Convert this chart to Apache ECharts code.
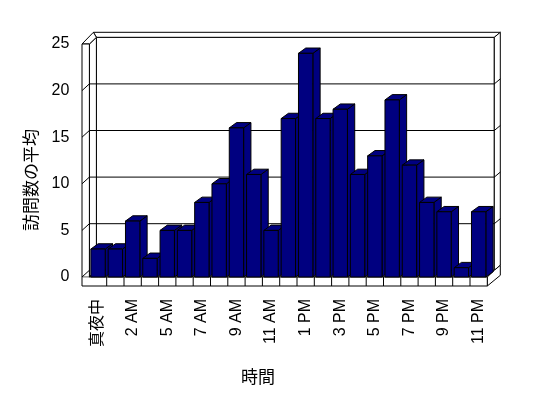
<!DOCTYPE html>
<html>
<head>
<meta charset="utf-8">
<script src="https://cdn.jsdelivr.net/npm/echarts@6/dist/echarts.min.js"></script>
<style>
html,body{margin:0;padding:0;background:#fff;}
#chart{width:548px;height:398px;}
</style>
</head>
<body>
<div id="chart"></div>
<script>
// Categories (hours) and values
var categories = ['真夜中','1 AM','2 AM','3 AM','5 AM','6 AM','7 AM','8 AM','9 AM','10 AM','11 AM','正午',
                  '1 PM','2 PM','3 PM','4 PM','5 PM','6 PM','7 PM','8 PM','9 PM','10 PM','11 PM'];
var visits = [3,3,6,2,5,5,8,10,16,11,5,17,24,17,18,11,13,19,12,8,7,1,7];
var yTicks = [0,5,10,15,20,25];
var yTitle = '訪問数の平均';
var xTitle = '時間';

var BAR = '#000080';
var DX = 7, DY = -6.7;        // wall depth offset
var BDX = 7.3, BDY = -5.3;    // bar depth offset

var chart = echarts.init(document.getElementById('chart'), null, {renderer:'canvas'});

function frameRender(params, api) {
  var cs = params.coordSys;
  var L = cs.x, R = cs.x + cs.width;
  var B = api.coord([0, 0])[1];
  var T = api.coord([0, 25])[1];
  var band = api.size([1, 0])[0];
  var LW = 7.4, FL = 9, BT = 5, BR = 6;
  var st = {fill:'#fff', stroke:'#000', lineWidth:1};
  var ln = {stroke:'#000', lineWidth:1, fill:null};
  var ch = [];
  ch.push({type:'polygon', shape:{points:[[L+DX,T+DY],[R+DX,T+DY],[R+DX,B+DY],[L+DX,B+DY]]}, style:st});
  ch.push({type:'polygon', shape:{points:[[L,T],[L+DX,T+DY],[L+DX,B+DY],[L,B]]}, style:st});
  ch.push({type:'polygon', shape:{points:[[L,B],[R,B],[R+DX,B+DY],[L+DX,B+DY]]}, style:st});
  ch.push({type:'polygon', shape:{points:[[L+DX,T+DY],[R+DX,T+DY],[R+DX+BR,T+DY-BT],[L+DX-3,T+DY-BT]]}, style:st});
  ch.push({type:'polygon', shape:{points:[[L-LW,T],[L,T],[L+DX,T+DY],[L+DX-3,T+DY-BT]]}, style:st});
  ch.push({type:'polygon', shape:{points:[[R+DX,T+DY],[R+DX+BR,T+DY-BT],[R+DX+BR,B+DY-BT],[R+DX,B+DY]]}, style:st});
  ch.push({type:'polygon', shape:{points:[[R,B],[R+DX,B+DY],[R+DX+BR,B+DY-BT],[R+DX+BR,B+FL+DY-BT+1],[R,B+FL]]}, style:st});
  ch.push({type:'rect', shape:{x:L-LW, y:T, width:LW, height:B-T}, style:st});
  ch.push({type:'rect', shape:{x:L-LW, y:B, width:R-L+LW, height:FL}, style:st});
  ch.push({type:'line', shape:{x1:L-LW+0.5, y1:B, x2:L-0.5, y2:B}, style:{stroke:'#fff', lineWidth:1}});
  for (var k = 1; k < categories.length; k++) {
    var x = L + k * band;
    ch.push({type:'line', shape:{x1:x, y1:B, x2:x, y2:B+FL}, style:ln});
  }
  yTicks.forEach(function (v) {
    var y = api.coord([0, v])[1];
    if (v < 25) {
      ch.push({type:'line', shape:{x1:L-LW, y1:y, x2:L, y2:y+DY}, style:ln});
      if (v > 0) {
        ch.push({type:'line', shape:{x1:L, y1:y+DY, x2:R+DX, y2:y+DY}, style:ln});
        ch.push({type:'line', shape:{x1:R+DX, y1:y+DY, x2:R+DX+BR, y2:y+DY-BT}, style:ln});
      }
    }
  });
  return {type:'group', children:ch};
}

function barRender(params, api) {
  var i = api.value(0), v = api.value(1);
  var top = api.coord([i, v]);
  var base = api.coord([i, 0]);
  var band = api.size([1, 0])[0];
  var w = band * 0.83;
  var x0 = top[0] - w / 2, x1 = x0 + w;
  var yt = top[1], yb = base[1];
  var st = {fill:BAR, stroke:'#000', lineWidth:1};
  return {type:'group', children:[
    {type:'polygon', shape:{points:[[x1,yt],[x1+BDX,yt+BDY],[x1+BDX,yb+BDY],[x1,yb]]}, style:st},
    {type:'polygon', shape:{points:[[x0,yt],[x0+BDX,yt+BDY],[x1+BDX,yt+BDY],[x1,yt]]}, style:st},
    {type:'rect', shape:{x:x0, y:yt, width:w, height:yb-yt}, style:st}
  ]};
}

var barData = visits.map(function (v, i) { return [i, v]; });

chart.setOption({
  animation:false,
  backgroundColor:'#fff',
  grid:{left:89.4, right:60.7, top:44, bottom:121},
  xAxis:{
    type:'category', data:categories,
    axisLine:{show:false}, axisTick:{show:false}, splitLine:{show:false},
    axisLabel:{rotate:90, interval:1, margin:22, fontSize:16, color:'#000',
      fontFamily:'"Liberation Sans", "Noto Sans CJK JP", sans-serif'}
  },
  yAxis:{
    type:'value', min:0, max:25, interval:5,
    axisLine:{show:false}, axisTick:{show:false}, splitLine:{show:false},
    axisLabel:{margin:20, fontSize:16, color:'#000', fontFamily:'"Liberation Sans", sans-serif'}
  },
  graphic:[
    {type:'text', x:31, y:180, rotation:Math.PI/2,
     style:{text:yTitle, fontSize:17, fill:'#000', textAlign:'center', textVerticalAlign:'middle',
       fontFamily:'"Noto Sans CJK JP", sans-serif'}},
    {type:'text', x:258, y:377,
     style:{text:xTitle, fontSize:17, fill:'#000', textAlign:'center', textVerticalAlign:'middle',
       fontFamily:'"Noto Sans CJK JP", sans-serif'}}
  ],
  series:[
    {type:'custom', z:1, data:[[0,0]], renderItem:frameRender, silent:true, clip:false},
    {type:'custom', z:2, data:barData, renderItem:barRender, silent:true, clip:false}
  ]
});
</script>
</body>
</html>
